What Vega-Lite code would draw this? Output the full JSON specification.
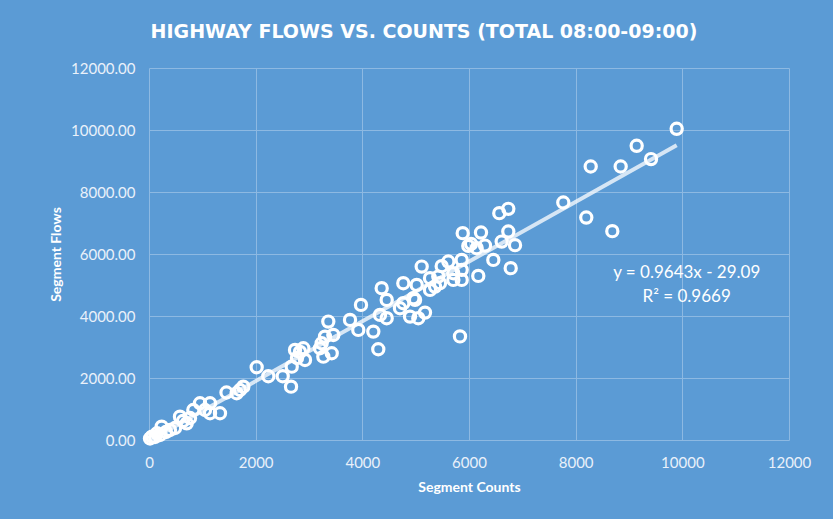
{
  "$schema": "https://vega.github.io/schema/vega-lite/v6.json",
  "width": 640,
  "height": 372,
  "autosize": {"type": "none"},
  "padding": {"left": 149, "top": 68, "right": 44, "bottom": 79},
  "background": "#5B9BD5",
  "config": {"view": {"stroke": null}, "font": "Lato"},
  "title": {
    "text": "HIGHWAY FLOWS VS. COUNTS (TOTAL 08:00-09:00)",
    "color": "#FFFFFF",
    "fontSize": 19,
    "fontWeight": "bold",
    "font": "DejaVu Sans",
    "anchor": "middle",
    "frame": "group",
    "dx": -45,
    "dy": 24,
    "baseline": "alphabetic",
    "offset": 28
  },
  "encoding": {
    "x": {
      "field": "count",
      "type": "quantitative",
      "scale": {"domain": [0, 12000], "nice": false, "zero": false},
      "axis": {
        "title": "Segment Counts",
        "values": [0, 2000, 4000, 6000, 8000, 10000, 12000],
        "format": "d",
        "labelColor": "#EAF1FA",
        "labelFontSize": 15,
        "labelFont": "Lato",
        "labelBaseline": "middle",
        "labelPadding": 22,
        "labelFlush": false,
        "ticks": false,
        "domain": false,
        "grid": true,
        "gridColor": "#8DB9E2",
        "gridWidth": 1,
        "titleColor": "#FFFFFF",
        "titleFontSize": 14,
        "titleFontWeight": "bold",
        "titleFont": "Lato",
        "titleBaseline": "alphabetic",
        "titleY": 51
      }
    },
    "y": {
      "field": "flow",
      "type": "quantitative",
      "scale": {"domain": [0, 12000], "nice": false, "zero": false},
      "axis": {
        "title": "Segment Flows",
        "values": [0, 2000, 4000, 6000, 8000, 10000, 12000],
        "format": ".2f",
        "labelColor": "#EAF1FA",
        "labelFontSize": 15,
        "labelFont": "Lato",
        "labelPadding": 14,
        "labelFlush": false,
        "ticks": false,
        "domain": false,
        "grid": true,
        "gridColor": "#8DB9E2",
        "gridWidth": 1,
        "titleColor": "#FFFFFF",
        "titleFontSize": 14,
        "titleFontWeight": "bold",
        "titleFont": "Lato",
        "titleAngle": 270,
        "titleAlign": "center",
        "titleBaseline": "middle",
        "titleX": -93,
        "titleY": 186
      }
    }
  },
  "layer": [
    {
      "data": {
        "values": [
          {"count": 19, "flow": 48}, {"count": 56, "flow": 107}, {"count": 112, "flow": 97},
          {"count": 150, "flow": 216}, {"count": 206, "flow": 161}, {"count": 238, "flow": 429},
          {"count": 319, "flow": 258}, {"count": 394, "flow": 323}, {"count": 488, "flow": 387},
          {"count": 581, "flow": 752}, {"count": 638, "flow": 613}, {"count": 707, "flow": 539},
          {"count": 769, "flow": 710}, {"count": 831, "flow": 968}, {"count": 956, "flow": 1185},
          {"count": 1050, "flow": 968}, {"count": 1144, "flow": 1185}, {"count": 1144, "flow": 862},
          {"count": 1331, "flow": 862}, {"count": 1453, "flow": 1533}, {"count": 1644, "flow": 1508},
          {"count": 1706, "flow": 1614}, {"count": 1768, "flow": 1721}, {"count": 2019, "flow": 2347},
          {"count": 2237, "flow": 2056}, {"count": 2507, "flow": 2056}, {"count": 2663, "flow": 1721},
          {"count": 2676, "flow": 2366}, {"count": 2738, "flow": 2905}, {"count": 2775, "flow": 2647},
          {"count": 2831, "flow": 2841}, {"count": 2894, "flow": 2960}, {"count": 2925, "flow": 2582},
          {"count": 3206, "flow": 2960}, {"count": 3238, "flow": 3121}, {"count": 3269, "flow": 2689},
          {"count": 3300, "flow": 3334}, {"count": 3362, "flow": 3819}, {"count": 3426, "flow": 2799},
          {"count": 3456, "flow": 3389}, {"count": 3769, "flow": 3874}, {"count": 3924, "flow": 3551},
          {"count": 3975, "flow": 4358}, {"count": 4206, "flow": 3496}, {"count": 4299, "flow": 2928},
          {"count": 4331, "flow": 4035}, {"count": 4363, "flow": 4897}, {"count": 4457, "flow": 4519},
          {"count": 4457, "flow": 3929}, {"count": 4706, "flow": 4251}, {"count": 4768, "flow": 4413},
          {"count": 4768, "flow": 5058}, {"count": 4894, "flow": 3980}, {"count": 4957, "flow": 4574},
          {"count": 4988, "flow": 4519}, {"count": 5019, "flow": 5003}, {"count": 5049, "flow": 3929},
          {"count": 5113, "flow": 5594}, {"count": 5175, "flow": 4109}, {"count": 5269, "flow": 5220},
          {"count": 5269, "flow": 4842}, {"count": 5363, "flow": 4949}, {"count": 5424, "flow": 5271},
          {"count": 5456, "flow": 5058}, {"count": 5488, "flow": 5607}, {"count": 5613, "flow": 5756},
          {"count": 5706, "flow": 5165}, {"count": 5706, "flow": 5381}, {"count": 5831, "flow": 3341},
          {"count": 5863, "flow": 5810}, {"count": 5863, "flow": 5488}, {"count": 5863, "flow": 5165},
          {"count": 5882, "flow": 6672}, {"count": 5987, "flow": 6262}, {"count": 6038, "flow": 6327},
          {"count": 6144, "flow": 6188}, {"count": 6174, "flow": 5294}, {"count": 6225, "flow": 6692},
          {"count": 6300, "flow": 6272}, {"count": 6456, "flow": 5810}, {"count": 6568, "flow": 7318},
          {"count": 6613, "flow": 6401}, {"count": 6737, "flow": 7457}, {"count": 6737, "flow": 6724},
          {"count": 6782, "flow": 5543}, {"count": 6863, "flow": 6285}, {"count": 7768, "flow": 7660},
          {"count": 8199, "flow": 7176}, {"count": 8282, "flow": 8822}, {"count": 8687, "flow": 6737},
          {"count": 8844, "flow": 8822}, {"count": 9144, "flow": 9490}, {"count": 9413, "flow": 9061},
          {"count": 9894, "flow": 10039}
        ]
      },
      "mark": {"type": "point", "shape": "circle", "filled": false, "color": "#FFFFFF", "strokeWidth": 3.2, "size": 125, "opacity": 1}
    },
    {
      "data": {"values": [{"count": 19, "flow": -10.8}, {"count": 9894, "flow": 9511.6}]},
      "mark": {"type": "line", "color": "#FFFFFF", "strokeWidth": 4, "opacity": 0.75, "clip": true}
    },
    {
      "data": {
        "values": [
          {"count": 10082, "flow": 5381, "label": "y = 0.9643x - 29.09"},
          {"count": 10082, "flow": 4626, "label": "R² = 0.9669"}
        ]
      },
      "mark": {"type": "text", "color": "#FFFFFF", "fontSize": 17, "font": "Lato", "align": "center", "baseline": "middle"},
      "encoding": {"text": {"field": "label", "type": "nominal"}}
    }
  ]
}
